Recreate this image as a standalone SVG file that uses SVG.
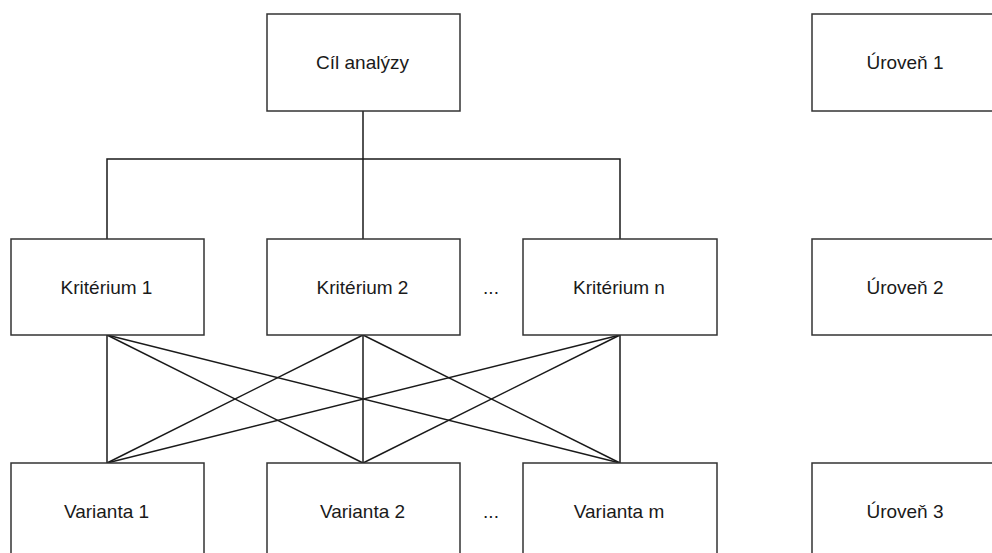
<svg xmlns="http://www.w3.org/2000/svg" width="992" height="553" viewBox="0 0 992 553">
<style>
.box{fill:#fff;stroke:#333;stroke-width:1.5}
.t{font-family:"Liberation Sans",Arial,sans-serif;font-size:19px;fill:#1a1a1a;text-anchor:middle;dominant-baseline:central}
.c{stroke:#1a1a1a;stroke-width:1.5;fill:none}
</style>
<rect width="992" height="553" fill="#fff"/>
<g id="connectors">
<polyline class="c" points="363,111 363,159"/>
<polyline class="c" points="107,239 107,159 620,159 620,239"/>
<line class="c" x1="363" y1="159" x2="363" y2="239"/>
<line class="c" x1="107" y1="335" x2="107" y2="463"/>
<line class="c" x1="107" y1="335" x2="363" y2="463"/>
<line class="c" x1="107" y1="335" x2="620" y2="463"/>
<line class="c" x1="363" y1="335" x2="107" y2="463"/>
<line class="c" x1="363" y1="335" x2="363" y2="463"/>
<line class="c" x1="363" y1="335" x2="620" y2="463"/>
<line class="c" x1="620" y1="335" x2="107" y2="463"/>
<line class="c" x1="620" y1="335" x2="363" y2="463"/>
<line class="c" x1="620" y1="335" x2="620" y2="463"/>
</g>
<g id="cil"><rect class="box" x="267" y="14" width="193" height="97"/><text class="t" x="362.5" y="62">Cíl analýzy</text></g>
<g id="k1"><rect class="box" x="11" y="239" width="193" height="96"/><text class="t" x="106.5" y="287">Kritérium 1</text></g>
<g id="k2"><rect class="box" x="267" y="239" width="193" height="96"/><text class="t" x="362.5" y="287">Kritérium 2</text></g>
<g id="kdots"><text class="t" x="491" y="287">...</text></g>
<g id="kn"><rect class="box" x="523" y="239" width="194" height="96"/><text class="t" x="619" y="287">Kritérium n</text></g>
<g id="v1"><rect class="box" x="11" y="463" width="193" height="110"/><text class="t" x="106.5" y="511">Varianta 1</text></g>
<g id="v2"><rect class="box" x="267" y="463" width="193" height="110"/><text class="t" x="362.5" y="511">Varianta 2</text></g>
<g id="vdots"><text class="t" x="491" y="511">...</text></g>
<g id="vm"><rect class="box" x="523" y="463" width="194" height="110"/><text class="t" x="619" y="511">Varianta m</text></g>
<g id="u1"><rect class="box" x="812" y="14" width="210" height="97"/><text class="t" x="905" y="62">Úroveň 1</text></g>
<g id="u2"><rect class="box" x="812" y="239" width="210" height="96"/><text class="t" x="905" y="287">Úroveň 2</text></g>
<g id="u3"><rect class="box" x="812" y="463" width="210" height="110"/><text class="t" x="905" y="511">Úroveň 3</text></g>
</svg>
